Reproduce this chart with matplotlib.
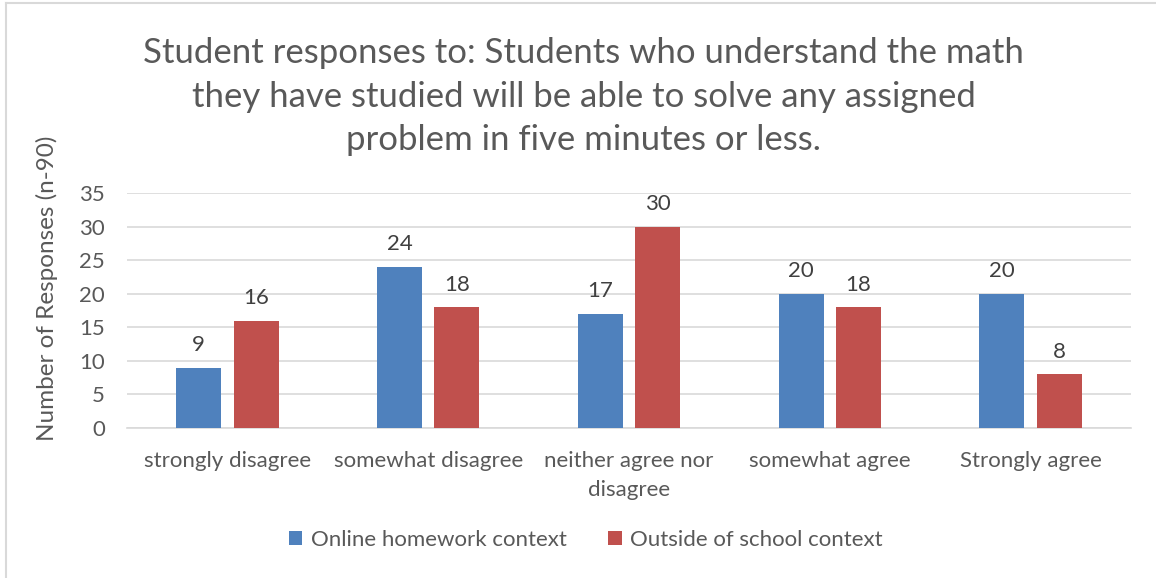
import matplotlib.pyplot as plt
import numpy as np
from matplotlib.lines import Line2D

# survey answers, two contexts
categories = ["strongly disagree", "somewhat disagree", "neither agree nor\ndisagree",
              "somewhat agree", "Strongly agree"]
online = [9, 24, 17, 20, 20]
outside = [16, 18, 30, 18, 8]
series_names = ["Online homework context", "Outside of school context"]

plt.rcParams['font.family'] = ['Lato', 'DejaVu Sans']
txt = '#595959'
fs = 16

fig = plt.figure(figsize=(11.56, 5.78), dpi=100)
ax = fig.add_axes([0.1099, 0.2595, 0.8685, 0.4066])

x = np.arange(len(categories))
w = 0.224
off = 0.143
b1 = ax.bar(x - off, online, w, color='#4F81BD', label=series_names[0], zorder=3)
b2 = ax.bar(x + off, outside, w, color='#C0504D', label=series_names[1], zorder=3)

for bars, vals in ((b1, online), (b2, outside)):
    for rect, v in zip(bars, vals):
        ax.annotate(str(v), (rect.get_x() + rect.get_width() / 2, v),
                    xytext=(0, 9), textcoords='offset points',
                    ha='center', va='bottom', fontsize=fs, color='#404040')

ax.set_xlim(-0.5, len(categories) - 0.5)
ax.set_ylim(0, 35)
ax.set_yticks(range(0, 36, 5))
ax.yaxis.grid(True, color='#D9D9D9', linewidth=1.2, zorder=0)
ax.set_xticks(x)
ax.set_xticklabels(categories, fontsize=fs, color=txt, linespacing=1.55)
ax.tick_params(axis='y', labelsize=fs, labelcolor=txt, length=0, pad=16)
ax.tick_params(axis='x', length=0, pad=16.5)
for s in ['top', 'right', 'left']:
    ax.spines[s].set_visible(False)
ax.spines['bottom'].set_color('#D9D9D9')
ax.spines['bottom'].set_linewidth(1.2)

# y-axis title sits a little above the plot's middle
fig.text(0.0407, 0.502, "Number of Responses (n-90)", rotation=90,
         ha='center', va='center', fontsize=17.5, color=txt)

fig.text(0.505, 0.833,
         "Student responses to: Students who understand the math\n"
         "they have studied will be able to solve any assigned\n"
         "problem in five minutes or less.",
         ha='center', va='center', fontsize=25, color=txt, linespacing=1.46)

fig.legend(handles=[b1, b2], loc='center', bbox_to_anchor=(0.507, 0.066), ncol=2,
           frameon=False, fontsize=fs, labelcolor=txt, handlelength=0.6,
           handleheight=0.6, handletextpad=0.4, columnspacing=1.85)

# thin chart-area border on the left and top
fig.add_artist(Line2D([0.0055, 0.0055], [0, 0.995], color='#D9D9D9', lw=1.5,
                      transform=fig.transFigure))
fig.add_artist(Line2D([0.0055, 1.0], [0.995, 0.995], color='#D9D9D9', lw=1.5,
                      transform=fig.transFigure))

fig.savefig('out.png', dpi=100)
